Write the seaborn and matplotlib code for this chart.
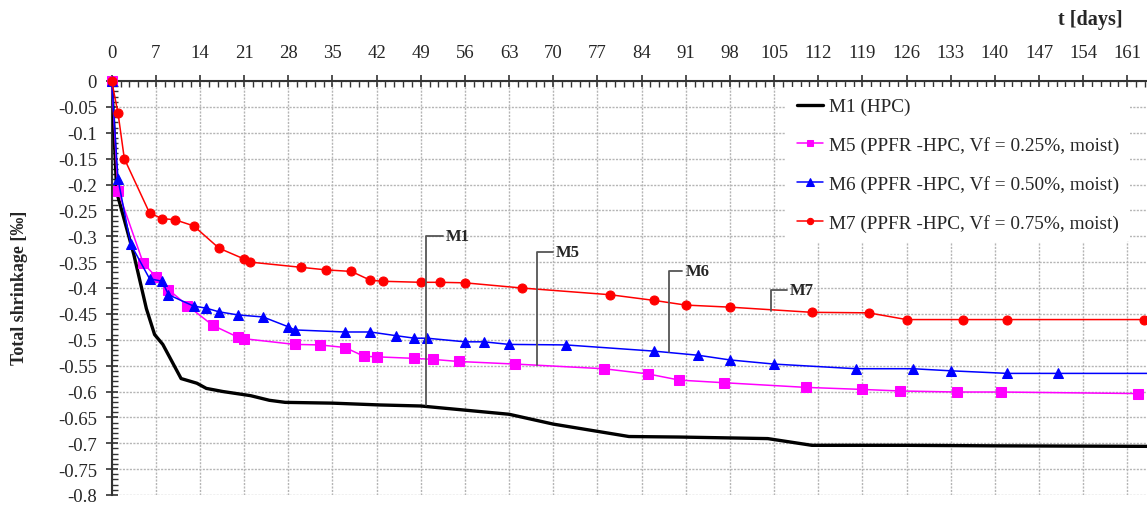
import numpy as np
import pandas as pd
import matplotlib
matplotlib.use("Agg")
import matplotlib.pyplot as plt
from matplotlib.ticker import MultipleLocator, FuncFormatter
import seaborn as sns

# ---------------- data ----------------
t_m1 = [0, 0.8, 3.5, 5.5, 6.8, 8.1, 11, 13.5, 15, 17.6, 22, 25, 27.5, 35, 42.5, 49, 56, 63,
        70, 82, 90, 104, 111, 126, 140, 164.1]
v_m1 = [0, -0.215, -0.335, -0.44, -0.49, -0.509, -0.575, -0.584, -0.594, -0.600, -0.608,
        -0.617, -0.621, -0.6225, -0.626, -0.628, -0.636, -0.644, -0.663, -0.687, -0.688,
        -0.691, -0.704, -0.704, -0.705, -0.706]

t_m5 = [0, 1, 5, 7, 9, 12, 16, 20, 21, 29, 33, 37, 40, 42, 48, 51, 55, 64, 78, 85, 90, 97,
        110, 119, 125, 134, 141, 162.7]
v_m5 = [0, -0.212, -0.352, -0.378, -0.403, -0.434, -0.472, -0.495, -0.498, -0.509, -0.510,
        -0.515, -0.532, -0.533, -0.536, -0.538, -0.542, -0.547, -0.556, -0.566, -0.578,
        -0.583, -0.592, -0.596, -0.599, -0.601, -0.601, -0.604]

t_m6 = [0, 1, 3, 6, 8, 9, 13, 15, 17, 20, 24, 28, 29, 37, 41, 45, 48, 50, 56, 59, 63, 72,
        86, 93, 98, 105, 118, 127, 133, 142, 150, 164.1]
v_m6 = [0, -0.19, -0.315, -0.382, -0.387, -0.413, -0.435, -0.439, -0.446, -0.452, -0.456,
        -0.475, -0.481, -0.485, -0.485, -0.492, -0.497, -0.497, -0.504, -0.504, -0.509,
        -0.510, -0.522, -0.530, -0.539, -0.547, -0.556, -0.556, -0.560, -0.565, -0.565,
        -0.565]

t_m7 = [0, 1, 2, 6, 8, 10, 13, 17, 21, 22, 30, 34, 38, 41, 43, 49, 52, 56, 65, 79, 86, 91,
        98, 111, 120, 126, 135, 142, 163.7]
v_m7 = [0, -0.062, -0.15, -0.255, -0.266, -0.268, -0.28, -0.323, -0.344, -0.35, -0.36,
        -0.365, -0.368, -0.385, -0.387, -0.389, -0.389, -0.39, -0.40, -0.413, -0.424,
        -0.433, -0.437, -0.447, -0.448, -0.461, -0.461, -0.461, -0.461]

labels = ["M1 (HPC)",
          "M5 (PPFR -HPC, Vf = 0.25%, moist)",
          "M6 (PPFR -HPC, Vf = 0.50%, moist)",
          "M7 (PPFR -HPC, Vf = 0.75%, moist)"]

x_ticks = list(range(0, 162, 7))
y_ticks = [round(-0.05 * i, 2) for i in range(0, 17)]

# callouts: (label, point t, point v, text t, text v)
callouts = [("M1", 49.9, -0.627, 53.0, -0.300),
            ("M5", 67.4, -0.548, 70.4, -0.331),
            ("M6", 88.4, -0.524, 91.0, -0.368),
            ("M7", 104.5, -0.445, 107.5, -0.403)]

# ---------------- style ----------------
sns.set_theme(style="white")
plt.rcParams["font.family"] = ["Liberation Serif", "DejaVu Serif"]
plt.rcParams["axes.unicode_minus"] = False

W, H = 1147, 506
X0, YT, YB = 111.7, 82, 496
fig = plt.figure(figsize=(W / 100, H / 100), dpi=100)
ax = fig.add_axes([X0 / W, (H - YB) / H, (W - X0) / W, (YB - YT) / H])

sns.lineplot(x=t_m1, y=v_m1, ax=ax, color="black", lw=2.4, label=labels[0],
             sort=False, errorbar=None, zorder=3)
sns.lineplot(x=t_m5, y=v_m5, ax=ax, color="#ff00ff", lw=1.1, marker="s", markersize=6.5,
             markeredgecolor="#ff00ff", label=labels[1], sort=False, errorbar=None,
             zorder=4, clip_on=False)
sns.lineplot(x=t_m6, y=v_m6, ax=ax, color="#0000ff", lw=1.1, marker="^", markersize=7.5,
             markeredgecolor="#0000ff", label=labels[2], sort=False, errorbar=None,
             zorder=4, clip_on=False, markevery=list(range(len(t_m6) - 1)))
sns.lineplot(x=t_m7, y=v_m7, ax=ax, color="#ff0000", lw=1.1, marker="o", markersize=6.5,
             markeredgecolor="#ff0000", label=labels[3], sort=False, errorbar=None,
             zorder=4, clip_on=False)

ax.set_xlim(0, (W - X0) / 6.308)
ax.set_ylim(-0.8, 0)

ax.xaxis.tick_top()
ax.set_xticks(x_ticks)
ax.xaxis.set_minor_locator(MultipleLocator(1.4))
ax.set_yticks(y_ticks)
ax.yaxis.set_minor_locator(MultipleLocator(0.01))
ax.yaxis.set_major_formatter(FuncFormatter(lambda v, p: "0" if abs(v) < 1e-9 else f"{v:g}"))

ax.tick_params(axis="x", which="major", direction="inout", length=9, width=1.2,
               color="#333333", labelsize=13.5, pad=10, top=True, bottom=False)
ax.tick_params(axis="x", which="minor", direction="in", length=4, width=1,
               color="#333333", top=True, bottom=False)
ax.tick_params(axis="y", which="major", direction="inout", length=9, width=1.2,
               color="#333333", labelsize=13.5, pad=6, left=True)
ax.tick_params(axis="y", which="minor", direction="in", length=4, width=1,
               color="#333333", left=True)

for side in ["right", "bottom"]:
    ax.spines[side].set_visible(False)
for side in ["top", "left"]:
    ax.spines[side].set_color("#333333")
    ax.spines[side].set_linewidth(1.5)

ax.grid(True, which="major", color="#b5b5b5", linestyle=(0, (1.5, 1)), lw=1.0)
ax.set_axisbelow(True)

ax.xaxis.set_label_position("top")
ax.set_xlabel("t [days]", fontsize=14.5, fontweight="bold")
ax.xaxis.set_label_coords((1090 - X0) / (W - X0), 1 + (YT - 20) / (YB - YT))
ax.xaxis.label.set_va("center")
ax.set_ylabel("Total shrinkage [‰]", fontsize=13, fontweight="bold")
ax.yaxis.set_label_coords((19 - X0) / (W - X0), (YB - 288) / (YB - YT))
ax.yaxis.label.set_va("center")

for name, px, py, tx, ty in callouts:
    ax.annotate(name, xy=(px, py), xytext=(tx, ty), ha="left", va="center",
                fontsize=12, fontweight="bold", zorder=6,
                arrowprops=dict(arrowstyle="-", color="#555555", lw=1.3,
                                connectionstyle="angle,angleA=0,angleB=90,rad=0",
                                shrinkA=0, shrinkB=0, relpos=(0, 0.5)))

leg = ax.legend(loc="upper left", bbox_to_anchor=((786 - X0) / (W - X0), 0.985),
                frameon=True, facecolor="white", edgecolor="none", framealpha=1,
                fontsize=13.9, handlelength=1.35, handletextpad=0.35, labelspacing=1.08,
                borderpad=0.55, borderaxespad=0, markerscale=0.7)
leg.set_zorder(5)

fig.savefig("out.png", dpi=100)
